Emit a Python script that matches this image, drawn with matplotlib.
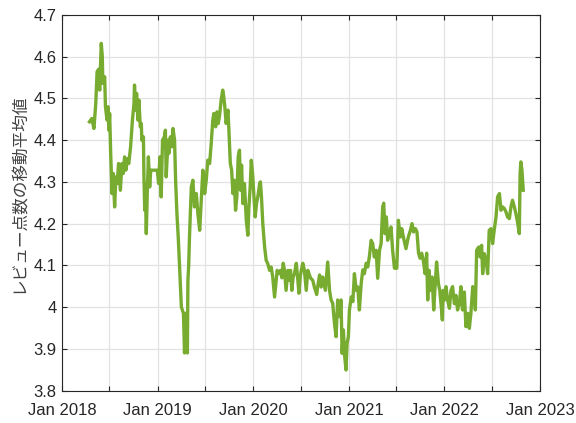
import matplotlib
matplotlib.use("Agg")
import matplotlib.pyplot as plt
import matplotlib.dates as mdates
import matplotlib.ticker as mticker
import pandas as pd

# days since 2018-01-01
day_offset = [
    105, 114, 122, 129, 134, 140, 144, 150, 154, 156, 163, 166, 172, 176, 179, 182,
    186, 191, 196, 201, 206, 211, 216, 223, 229, 234, 239, 244, 250, 255, 262, 269,
    275, 277, 281, 285, 290, 294, 299, 303, 305, 311, 313, 316, 318, 322, 326, 330,
    335, 339, 354, 364, 369, 374, 379, 384, 391, 395, 398, 405, 408, 414, 419, 424,
    430, 434, 439, 444, 449, 456, 464, 468, 473, 479, 481, 484, 487, 494, 500, 506,
    513, 519, 526, 532, 538, 545, 551, 557, 564, 570, 576, 580, 587, 592, 597, 602,
    608, 614, 618, 622, 627, 634, 637, 643, 648, 653, 658, 663, 668, 673, 678, 682,
    686, 691, 697, 704, 710, 714, 719, 723, 728, 732, 738, 743, 748, 755, 758, 762,
    767, 774, 780, 786, 793, 799, 805, 812, 818, 822, 828, 835, 840, 845, 850, 856,
    863, 868, 873, 878, 883, 888, 895, 901, 905, 910, 914, 920, 926, 933, 939, 949,
    958, 964, 973, 977, 984, 990, 996, 1006, 1015, 1022, 1028, 1034, 1041, 1047, 1053, 1060,
    1066, 1070, 1075, 1080, 1085, 1089, 1094, 1098, 1105, 1111, 1117, 1124, 1130, 1136, 1143, 1149,
    1155, 1162, 1168, 1174, 1181, 1187, 1193, 1200, 1206, 1213, 1219, 1225, 1229, 1234, 1239, 1244,
    1251, 1257, 1263, 1270, 1279, 1285, 1292, 1298, 1304, 1314, 1323, 1331, 1337, 1343, 1350, 1356,
    1362, 1368, 1374, 1380, 1387, 1393, 1397, 1402, 1407, 1414, 1420, 1425, 1431, 1438, 1443, 1450,
    1453, 1456, 1461, 1467, 1473, 1480, 1486, 1492, 1499, 1505, 1511, 1518, 1524, 1530, 1537, 1543,
    1550, 1556, 1562, 1569, 1575, 1579, 1584, 1592, 1597, 1603, 1607, 1613, 1620, 1626, 1632, 1639,
    1645, 1651, 1658, 1664, 1671, 1677, 1683, 1690, 1696, 1702, 1709, 1715, 1721, 1728, 1734, 1740,
    1747, 1750, 1753, 1757, 1762,
]
moving_avg = [
    4.444, 4.452, 4.428, 4.488, 4.564, 4.570, 4.520, 4.632, 4.600, 4.536, 4.552, 4.480, 4.448, 4.480, 4.424, 4.464,
    4.368, 4.272, 4.320, 4.240, 4.312, 4.296, 4.344, 4.280, 4.344, 4.320, 4.360, 4.328, 4.356, 4.344, 4.384, 4.448,
    4.488, 4.532, 4.472, 4.512, 4.448, 4.496, 4.432, 4.440, 4.400, 4.408, 4.312, 4.232, 4.296, 4.176, 4.280, 4.360,
    4.288, 4.328, 4.328, 4.328, 4.296, 4.360, 4.264, 4.400, 4.408, 4.424, 4.312, 4.400, 4.368, 4.408, 4.384, 4.428,
    4.400, 4.304, 4.224, 4.168, 4.100, 4.000, 3.985, 3.890, 3.985, 3.890, 4.064, 4.100, 4.168, 4.288, 4.304, 4.240,
    4.272, 4.224, 4.184, 4.256, 4.328, 4.272, 4.304, 4.352, 4.344, 4.392, 4.448, 4.464, 4.432, 4.468, 4.440, 4.460,
    4.496, 4.520, 4.504, 4.480, 4.440, 4.472, 4.432, 4.344, 4.328, 4.272, 4.304, 4.232, 4.264, 4.360, 4.376, 4.280,
    4.340, 4.248, 4.296, 4.208, 4.172, 4.240, 4.290, 4.352, 4.320, 4.280, 4.216, 4.248, 4.264, 4.296, 4.300, 4.264,
    4.200, 4.144, 4.112, 4.104, 4.088, 4.096, 4.072, 4.024, 4.064, 4.088, 4.080, 4.088, 4.070, 4.105, 4.088, 4.040,
    4.088, 4.064, 4.088, 4.040, 4.072, 4.080, 4.105, 4.064, 4.033, 4.072, 4.088, 4.105, 4.088, 4.040, 4.088, 4.070,
    4.064, 4.048, 4.030, 4.050, 4.077, 4.048, 4.072, 4.040, 4.108, 4.040, 4.017, 4.009, 3.960, 3.929, 4.017, 3.977,
    4.017, 3.889, 3.945, 3.881, 3.849, 3.913, 3.929, 3.993, 4.024, 4.013, 4.080, 4.040, 4.048, 3.993, 4.057, 4.089,
    4.080, 4.105, 4.096, 4.120, 4.160, 4.152, 4.120, 4.136, 4.069, 4.136, 4.152, 4.240, 4.249, 4.176, 4.216, 4.160,
    4.180, 4.192, 4.136, 4.093, 4.093, 4.208, 4.168, 4.188, 4.168, 4.140, 4.168, 4.184, 4.200, 4.180, 4.188, 4.180,
    4.129, 4.117, 4.129, 4.112, 4.080, 4.129, 4.017, 4.088, 4.040, 4.072, 3.993, 4.048, 4.108, 4.056, 4.040, 3.993,
    3.969, 4.040, 4.017, 4.049, 4.017, 3.997, 4.040, 4.049, 4.008, 4.028, 3.993, 4.009, 4.049, 3.993, 4.036, 3.953,
    3.985, 3.949, 3.985, 4.049, 4.040, 3.993, 4.136, 4.144, 4.120, 4.148, 4.080, 4.128, 4.112, 4.080, 4.184, 4.188,
    4.152, 4.184, 4.216, 4.264, 4.272, 4.232, 4.240, 4.236, 4.228, 4.216, 4.212, 4.240, 4.256, 4.240, 4.224, 4.204,
    4.176, 4.320, 4.348, 4.328, 4.280,
]
y_ticks = [3.8, 3.9, 4.0, 4.1, 4.2, 4.3, 4.4, 4.5, 4.6, 4.7]
y_label = "レビュー点数の移動平均値"

dates = pd.Timestamp("2018-01-01") + pd.to_timedelta(day_offset, unit="D")

plt.rcParams['font.family'] = ['Liberation Sans', 'DejaVu Sans']
dark = '#262626'

fig = plt.figure(figsize=(5.76, 4.23), dpi=100)
ax = fig.add_axes([62 / 576, 32.5 / 423, 478 / 576, 375.5 / 423])
ax.plot(dates, moving_avg, color='#77AC30', linewidth=2.4)

ax.set_xlim(pd.Timestamp("2018-01-01"), pd.Timestamp("2023-01-01"))
ax.set_ylim(3.8, 4.7)
ax.set_yticks(y_ticks)
ax.yaxis.set_major_formatter(mticker.FormatStrFormatter('%g'))

ax.xaxis.set_major_locator(mdates.MonthLocator(bymonth=[1, 7]))
def jan_only(x, pos):
    d = mdates.num2date(x)
    return d.strftime('Jan %Y') if d.month == 1 else ''
ax.xaxis.set_major_formatter(mticker.FuncFormatter(jan_only))

ax.grid(True, color='#e2e2e2', linewidth=0.9)
ax.set_axisbelow(True)
for s in ax.spines.values():
    s.set_color(dark)
    s.set_linewidth(0.8)
ax.tick_params(direction='in', length=3.5, width=0.8, colors=dark,
               labelsize=12, top=True, right=True, pad=4)
ax.tick_params(axis='x', pad=9)

ax.set_ylabel(y_label, family=['Noto Sans CJK JP', 'DejaVu Sans'],
              fontsize=12, color='#404040')
ax.yaxis.set_label_coords(-35 / 478, 0.525)

fig.savefig("out.png", dpi=100)
